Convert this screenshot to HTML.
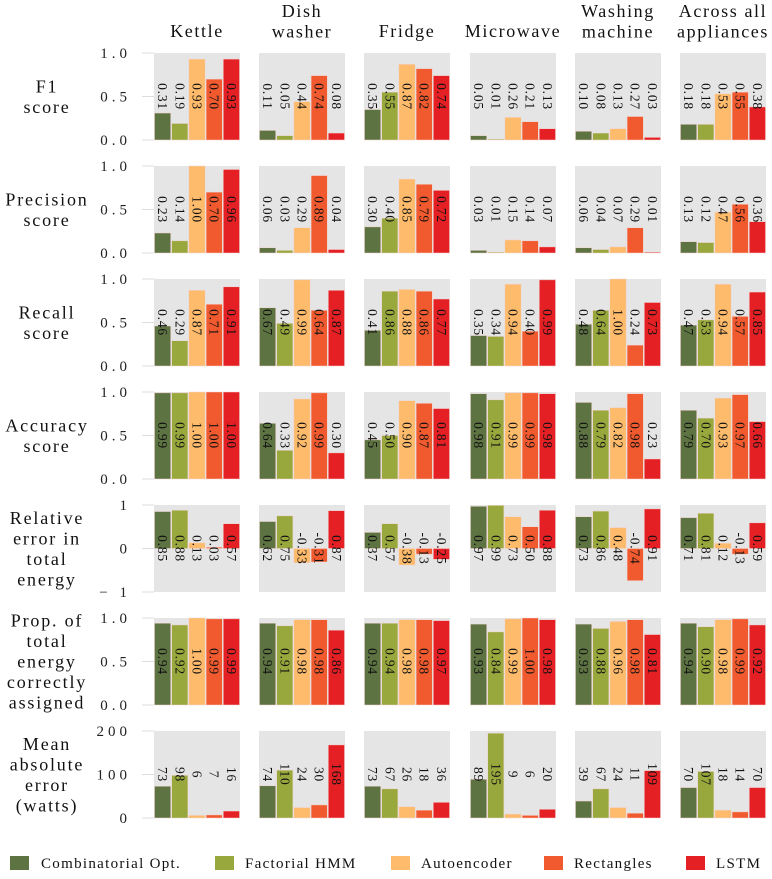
<!DOCTYPE html>
<html><head><meta charset="utf-8"><style>
body{margin:0;background:#fff;}
svg{display:block;font-family:"Liberation Serif",serif;}
</style></head><body>
<svg id="c" width="772" height="879"></svg>
<script>
const appliances = [["Kettle"],["Dish","washer"],["Fridge"],["Microwave"],["Washing","machine"],["Across all","appliances"]];
const metrics = [["F1","score"],["Precision","score"],["Recall","score"],["Accuracy","score"],["Relative","error in","total","energy"],["Prop. of","total","energy","correctly","assigned"],["Mean","absolute","error","(watts)"]];
const methods = ["Combinatorial Opt.","Factorial HMM","Autoencoder","Rectangles","LSTM"];
const f1 = [[.31,.19,.93,.70,.93],[.11,.05,.44,.74,.08],[.35,.55,.87,.82,.74],[.05,.01,.26,.21,.13],[.10,.08,.13,.27,.03],[.18,.18,.53,.55,.38]];
const precision = [[.23,.14,1.00,.70,.96],[.06,.03,.29,.89,.04],[.30,.40,.85,.79,.72],[.03,.01,.15,.14,.07],[.06,.04,.07,.29,.01],[.13,.12,.47,.56,.36]];
const recall = [[.46,.29,.87,.71,.91],[.67,.49,.99,.64,.87],[.41,.86,.88,.86,.77],[.35,.34,.94,.40,.99],[.48,.64,1.00,.24,.73],[.47,.53,.94,.57,.85]];
const accuracy = [[.99,.99,1.00,1.00,1.00],[.64,.33,.92,.99,.30],[.45,.50,.90,.87,.81],[.98,.91,.99,.99,.98],[.88,.79,.82,.98,.23],[.79,.70,.93,.97,.66]];
const relError = [[.85,.88,.13,.03,.57],[.62,.75,-.33,-.31,.87],[.37,.57,-.38,-.13,-.25],[.97,.99,.73,.50,.88],[.73,.86,.48,-.74,.91],[.71,.81,.12,-.13,.59]];
const propAssigned = [[.94,.92,1.00,.99,.99],[.94,.91,.98,.98,.86],[.94,.94,.98,.98,.97],[.93,.84,.99,1.00,.98],[.93,.88,.96,.98,.81],[.94,.90,.98,.99,.92]];
const mae = [[73,98,6,7,16],[74,110,24,30,168],[73,67,26,18,36],[89,195,9,6,20],[39,67,24,11,109],[70,107,18,14,70]];
const yTickLabels = [["1.0","0.5","0.0"],["1.0","0.5","0.0"],["1.0","0.5","0.0"],["1.0","0.5","0.0"],["1","0","− 1"],["1.0","0.5","0.0"],["200","100","0"]];

const rowData = [f1,precision,recall,accuracy,relError,propAssigned,mae];
const rowRange = [[0,1],[0,1],[0,1],[0,1],[-1,1],[0,1],[0,200]];
const colors = ["#5d7342","#98a83c","#fdbb6b","#f15a2e","#e42025"];
const NS="http://www.w3.org/2000/svg";
const svg=document.getElementById('c');
function mk(tag,attrs,parent){const e=document.createElementNS(NS,tag);for(const k in attrs)e.setAttribute(k,attrs[k]);(parent||svg).appendChild(e);return e;}
const colX=[154,259,364,470,575,680], PW=86, PH=87, rowTop=r=>53+r*113;

appliances.forEach((lines,c)=>{
  const cx=colX[c]+PW/2;
  lines.forEach((ln,i)=>{
    const t=mk('text',{x:cx,y:lines.length===1?37:17+i*20.5,'text-anchor':'middle','font-size':18,'letter-spacing':1.6,fill:'#111'});
    t.textContent=ln;
    
    
  });
});

rowData.forEach((data,r)=>{
  const top=rowTop(r), [y0,y1]=rowRange[r];
  const yS=v=>top+PH-(v-y0)/(y1-y0)*PH;
  const mid=top+PH/2;
  const lines=metrics[r];
  lines.forEach((ln,i)=>{
    const t=mk('text',{x:47,y:mid+(i-(lines.length-1)/2)*20.5+6,'text-anchor':'middle','font-size':18,'letter-spacing':1.8,fill:'#111'});
    t.textContent=ln;
    
    
  });
  const tv=[y1,(y0+y1)/2,y0];
  tv.forEach((v,i)=>{
    const y=yS(v);
    const l=mk('line',{x1:142,x2:154,y1:y,y2:y,stroke:'#ddd','stroke-width':1});
    
    
    const t=mk('text',{x:131,y:y+5,'text-anchor':'end','font-size':15,'letter-spacing':4,fill:'#222'});
    t.textContent=yTickLabels[r][i];
    
    
  });
  data.forEach((vals,c)=>{
    const x0=colX[c];
    const bg=mk('rect',{x:x0,y:top,width:PW,height:PH,fill:'#e5e5e5'});
    
    
    const bw=PW/vals.length;
    vals.forEach((v,k)=>{
      const ya=yS(v), yb=yS(Math.max(y0,0));
      const b=mk('rect',{x:x0+k*bw+0.5,y:Math.min(ya,yb),width:bw-1,height:Math.abs(yb-ya),fill:colors[k],stroke:'#f2d4cf','stroke-width':0.5});
      
      
    });
    vals.forEach((v,k)=>{
      const lx=x0+k*bw+bw/2, txt=(r===6)?String(v):v.toFixed(2);
      const t=mk('text',{x:0,y:0,transform:`translate(${lx-4.5},${mid}) rotate(90)`,'text-anchor':'middle','font-size':13.5,'letter-spacing':0.8,fill:'#111'});
      t.textContent=txt;
      
      
    });
  });
});

const legX=[10,215,391,544,686], legTX=[41,245,421,574,716];
methods.forEach((m,i)=>{
  const s=mk('rect',{x:legX[i],y:856,width:19,height:14,fill:colors[i]});
  
  
  const t=mk('text',{x:legTX[i],y:868,'font-size':15,'letter-spacing':1.3,fill:'#111'});
  t.textContent=m;
  
  
});
</script>
</body></html>
